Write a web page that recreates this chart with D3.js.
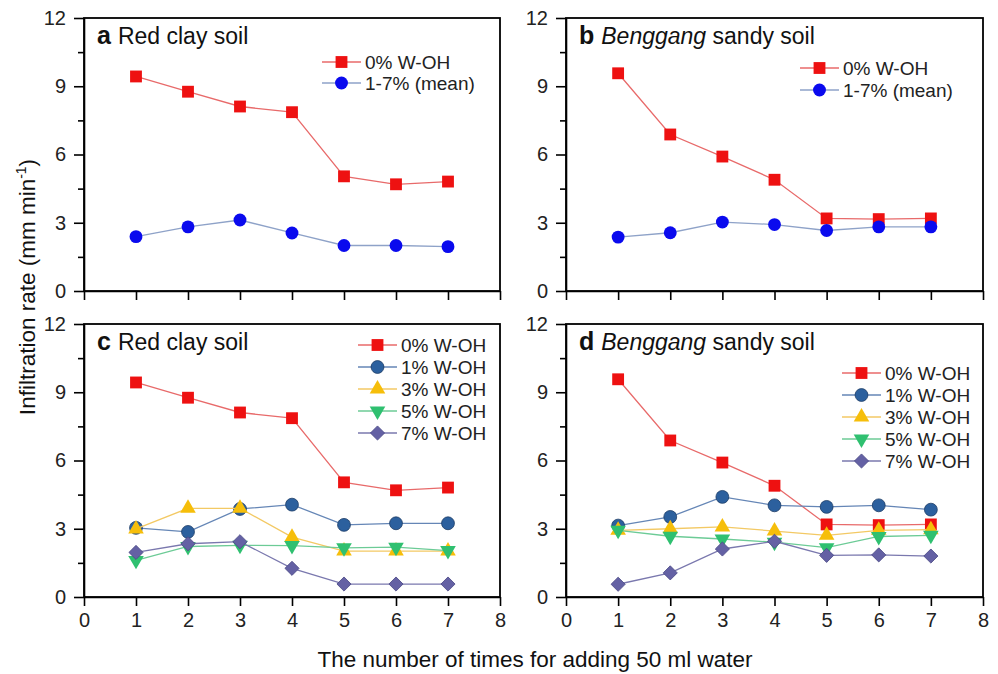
<!DOCTYPE html>
<html lang="en">
<head>
  <meta charset="UTF-8">
  <title>Infiltration rate</title>
  <style>
    body { margin: 0; background: #fff; font-family: "Liberation Sans", Arial, sans-serif; }
    .axis path, .axis line { stroke: #000; stroke-width: 1.6px; }
    .axis text { font-size: 20px; fill: #222; font-family: "Liberation Sans", Arial, sans-serif; }
    .frame { fill: none; stroke: #000; stroke-width: 1.8px; }
    .leg text { font-size: 19px; fill: #222; }
  </style>
</head>
<body>
  <svg id="chart" width="998" height="674"></svg>
  <script src="https://cdn.jsdelivr.net/npm/d3@7"></script>
  <script>
    // data
    const times = [1, 2, 3, 4, 5, 6, 7];
    const xTicks = [0, 1, 2, 3, 4, 5, 6, 7, 8];
    const yTicks = [0, 3, 6, 9, 12];

    const clay0 = [9.43, 8.76, 8.11, 7.86, 5.04, 4.69, 4.81];
    const clayMean = [2.39, 2.82, 3.12, 2.55, 2.00, 2.00, 1.95];
    const sandy0 = [9.57, 6.88, 5.91, 4.89, 3.19, 3.16, 3.19];
    const sandyMean = [2.37, 2.56, 3.03, 2.92, 2.66, 2.82, 2.82];

    const clay1 = [3.04, 2.86, 3.87, 4.06, 3.17, 3.24, 3.24];
    const clay3 = [2.99, 3.90, 3.90, 2.63, 2.02, 2.02, 2.02];
    const clay5 = [1.61, 2.22, 2.27, 2.26, 2.16, 2.19, 2.04];
    const clay7 = [1.96, 2.34, 2.43, 1.26, 0.57, 0.57, 0.57];

    const sandy1 = [3.14, 3.52, 4.40, 4.03, 3.96, 4.03, 3.84];
    const sandy3 = [2.93, 3.00, 3.08, 2.90, 2.71, 2.93, 2.96];
    const sandy5 = [2.93, 2.67, 2.55, 2.41, 2.17, 2.66, 2.71];
    const sandy7 = [0.56, 1.06, 2.11, 2.45, 1.83, 1.85, 1.80];

    const st = {
      p0:   { name: "0% W-OH",     sym: d3.symbolSquare,   size: 140, rot: 0,   fill: "#ee1111", line: "#e86a6a", stroke: "none" },
      mean: { name: "1-7% (mean)", sym: d3.symbolCircle,   size: 130, rot: 0,   fill: "#0a0aee", line: "#8ea2c8", stroke: "none" },
      p1:   { name: "1% W-OH",     sym: d3.symbolCircle,   size: 130, rot: 0,   fill: "#2c609e", line: "#6586b6", stroke: "#1d3c66" },
      p3:   { name: "3% W-OH",     sym: d3.symbolTriangle, size: 105, rot: 0,   fill: "#f6be0a", line: "#f3c964", stroke: "none" },
      p5:   { name: "5% W-OH",     sym: d3.symbolTriangle, size: 105, rot: 180, fill: "#2fc070", line: "#6ccb96", stroke: "none" },
      p7:   { name: "7% W-OH",     sym: d3.symbolSquare,   size: 100, rot: 45,  fill: "#6461a4", line: "#7a78ae", stroke: "#4c4a86" }
    };

    const panels = [
      { letter: "a", it: "", title: "Red clay soil", l: 84, r: 500, t: 18, b: 291, labels: false,
        series: [[st.p0, clay0], [st.mean, clayMean]], leg: { x: 322, y: 62, dy: 21 } },
      { letter: "b", it: "Benggang", title: " sandy soil", l: 566, r: 983, t: 18, b: 291, labels: false,
        series: [[st.p0, sandy0], [st.mean, sandyMean]], leg: { x: 800, y: 68, dy: 22 } },
      { letter: "c", it: "", title: "Red clay soil", l: 84, r: 500, t: 324, b: 597, labels: true,
        series: [[st.p0, clay0], [st.p1, clay1], [st.p3, clay3], [st.p5, clay5], [st.p7, clay7]], leg: { x: 358, y: 345, dy: 22 } },
      { letter: "d", it: "Benggang", title: " sandy soil", l: 566, r: 983, t: 324, b: 597, labels: true,
        series: [[st.p0, sandy0], [st.p1, sandy1], [st.p3, sandy3], [st.p5, sandy5], [st.p7, sandy7]], leg: { x: 842, y: 373, dy: 22 } }
    ];

    const svg = d3.select("#chart");

    function marker(g, s, x, y) {
      g.append("path")
        .attr("d", d3.symbol().type(s.sym).size(s.size)())
        .attr("transform", `translate(${x},${y}) rotate(${s.rot})`)
        .attr("fill", s.fill)
        .attr("stroke", s.stroke)
        .attr("stroke-width", 0.8);
    }

    panels.forEach(p => {
      const x = d3.scaleLinear().domain([0, 8]).range([p.l, p.r]);
      const y = d3.scaleLinear().domain([0, 12]).range([p.b, p.t]);
      const g = svg.append("g");

      // minor y ticks
      g.append("g").attr("class", "axis")
        .attr("transform", `translate(${p.l},0)`)
        .call(d3.axisLeft(y).tickValues([1.5, 4.5, 7.5, 10.5]).tickSize(6).tickFormat(""))
        .call(a => a.select(".domain").remove());

      g.append("g").attr("class", "axis")
        .attr("transform", `translate(${p.l},0)`)
        .call(d3.axisLeft(y).tickValues(yTicks).tickSize(10).tickPadding(8).tickSizeOuter(0));

      g.append("g").attr("class", "axis")
        .attr("transform", `translate(0,${p.b})`)
        .call(d3.axisBottom(x).tickValues(xTicks).tickSize(9).tickPadding(7).tickSizeOuter(0)
          .tickFormat(p.labels ? d3.format("d") : ""));

      g.append("rect").attr("class", "frame")
        .attr("x", p.l).attr("y", p.t)
        .attr("width", p.r - p.l).attr("height", p.b - p.t);

      const line = d3.line().x((d, i) => x(times[i])).y(d => y(d));
      p.series.forEach(([s, vals]) => {
        g.append("path").datum(vals)
          .attr("d", line)
          .attr("fill", "none")
          .attr("stroke", s.line)
          .attr("stroke-width", 1.3);
        vals.forEach((v, i) => marker(g, s, x(times[i]), y(v)));
      });

      // panel title
      const tt = g.append("text")
        .attr("x", p.l + 13).attr("y", p.t + 26)
        .style("font-size", "23px").attr("fill", "#111");
      tt.append("tspan").text(p.letter).style("font-weight", "bold").style("font-size", "25px");
      if (p.it) tt.append("tspan").attr("dx", 7).text(p.it).style("font-style", "italic");
      tt.append("tspan").attr("dx", p.it ? 0 : 7).text(p.title);

      // legend
      const lg = g.append("g").attr("class", "leg");
      p.series.forEach(([s], i) => {
        const yy = p.leg.y + i * p.leg.dy;
        lg.append("line")
          .attr("x1", p.leg.x).attr("x2", p.leg.x + 39)
          .attr("y1", yy).attr("y2", yy)
          .attr("stroke", s.line).attr("stroke-width", 1.3);
        marker(lg, s, p.leg.x + 19.5, yy);
        lg.append("text")
          .attr("x", p.leg.x + 43).attr("y", yy).attr("dy", "0.35em")
          .text(s.name);
      });
    });

    // shared axis titles
    svg.append("text")
      .attr("x", 535).attr("y", 667)
      .attr("text-anchor", "middle")
      .style("font-size", "22.5px").attr("fill", "#111")
      .text("The number of times for adding 50 ml water");

    const yl = svg.append("text")
      .attr("transform", "translate(35,287) rotate(-90)")
      .attr("text-anchor", "middle")
      .style("font-size", "22.5px").attr("fill", "#111");
    yl.append("tspan").text("Infiltration rate (mm min");
    yl.append("tspan").text("-1").attr("dy", -9).style("font-size", "14px");
    yl.append("tspan").text(")").attr("dy", 9);
  </script>
</body>
</html>
